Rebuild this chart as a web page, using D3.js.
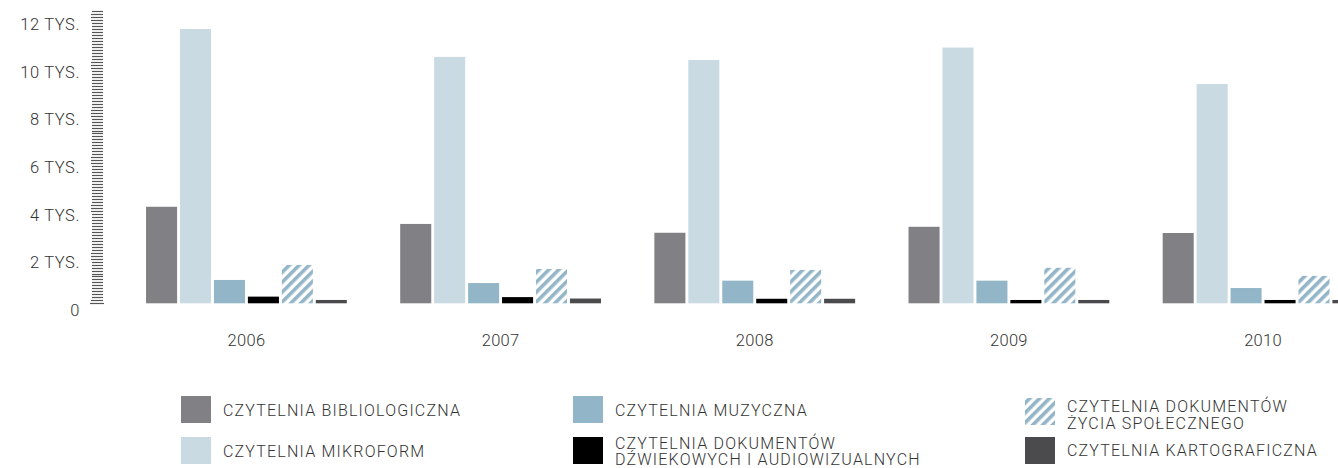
<!DOCTYPE html>
<html>
<head>
<meta charset="utf-8">
<script src="https://cdn.jsdelivr.net/npm/d3@7/dist/d3.min.js"></script>
<style>
  html, body { margin: 0; padding: 0; background: #fff; }
  svg { display: block; }
  text { font-family: Roboto, "Noto Sans", sans-serif; font-weight: 300; fill: #333; }
</style>
</head>
<body>
<svg id="chart" width="1338" height="468"></svg>
<script>
const years = ["2006", "2007", "2008", "2009", "2010"];
const seriesKeys = ["biblio", "mikro", "muz", "audio", "zycie", "karto"];
const biblio = [4050, 3330, 2960, 3210, 2950];
const mikro  = [11510, 10340, 10210, 10730, 9200];
const muz    = [980, 850, 950, 950, 640];
const audio  = [280, 260, 190, 140, 140];
const zycie  = [1610, 1440, 1400, 1490, 1150];
const karto  = [140, 200, 190, 140, 140];
const yTickValues = [0, 2000, 4000, 6000, 8000, 10000, 12000];
const yTickLabels = ["0", "2 TYS.", "4 TYS.", "6 TYS.", "8 TYS.", "10 TYS.", "12 TYS."];
const legendLabels = [
  ["CZYTELNIA BIBLIOLOGICZNA"],
  ["CZYTELNIA MIKROFORM"],
  ["CZYTELNIA MUZYCZNA"],
  ["CZYTELNIA DOKUMENTÓW", "DŹWIEKOWYCH I AUDIOWIZUALNYCH"],
  ["CZYTELNIA DOKUMENTÓW", "ŻYCIA SPOŁECZNEGO"],
  ["CZYTELNIA KARTOGRAFICZNA"]
];

const valuesBySeries = { biblio, mikro, muz, audio, zycie, karto };
const fills = {
  biblio: "#808085",
  mikro: "#c9dae2",
  muz: "#93b5c8",
  audio: "#000000",
  zycie: "url(#hatch)",
  karto: "#4b4b4d"
};

const svg = d3.select("#chart");

// hatch pattern
const defs = svg.append("defs");
const pat = defs.append("pattern")
  .attr("id", "hatch")
  .attr("patternUnits", "userSpaceOnUse")
  .attr("width", 7)
  .attr("height", 7)
  .attr("patternTransform", "rotate(45)");
pat.append("rect").attr("width", 7).attr("height", 7).attr("fill", "#fff");
pat.append("rect").attr("width", 3.6).attr("height", 7).attr("fill", "#93b5c8");

const y = d3.scaleLinear().domain([0, 12000]).range([303.3, 17.3]);

const groupStep = 253.9;
const x0 = d3.scaleBand()
  .domain(years)
  .range([120, 120 + groupStep * years.length])
  .paddingInner(0.21)
  .paddingOuter(0.1025);
const x1 = d3.scaleBand()
  .domain(seriesKeys)
  .range([0, x0.bandwidth()])
  .paddingInner(0.0855);

// y axis minor ticks
const minorTicks = d3.range(0, 12251, 125);
const axisG = svg.append("g");
axisG.selectAll("line.minor")
  .data(minorTicks)
  .enter().append("line")
  .attr("x1", d => (d === 0 ? 90 : (d % 2000 === 0 || (d % 2000) === 125 || (d % 2000) === 1875) ? 91 : 92))
  .attr("x2", d => (d === 0 ? 104 : 103))
  .attr("y1", d => Math.round(y(d)) + 0.5)
  .attr("y2", d => Math.round(y(d)) + 0.5)
  .attr("stroke", "#555")
  .attr("stroke-width", 1.2);

axisG.selectAll("text.ylab")
  .data(yTickValues)
  .enter().append("text")
  .attr("x", 80)
  .attr("y", d => y(d) + 7)
  .attr("dy", "0.35em")
  .attr("text-anchor", "end")
  .style("font-size", "16.5px")
  .style("letter-spacing", "0.6px")
  .text((d, i) => yTickLabels[i]);

// bars
const groups = svg.append("g").selectAll("g")
  .data(years)
  .enter().append("g")
  .attr("transform", d => `translate(${x0(d)},0)`);

groups.selectAll("rect")
  .data((yr, yi) => seriesKeys.map(k => ({ key: k, value: valuesBySeries[k][yi] })))
  .enter().append("rect")
  .attr("x", d => x1(d.key))
  .attr("width", x1.bandwidth())
  .attr("y", d => y(d.value))
  .attr("height", d => y(0) - y(d.value))
  .attr("fill", d => fills[d.key]);

// x labels
svg.append("g").selectAll("text")
  .data(years)
  .enter().append("text")
  .attr("x", d => x0(d) + x0.bandwidth() / 2)
  .attr("y", 340)
  .attr("dy", "0.35em")
  .attr("text-anchor", "middle")
  .style("font-size", "16.5px")
  .style("letter-spacing", "0.3px")
  .text(d => d);

// legend
const legendPos = [
  { x: 181, y: 396, ty: [410] },
  { x: 181, y: 437, ty: [451] },
  { x: 573, y: 396, ty: [410] },
  { x: 573, y: 437, ty: [443, 459] },
  { x: 1025, y: 398, ty: [406, 423] },
  { x: 1025, y: 437, ty: [450] }
];
const legend = svg.append("g").selectAll("g")
  .data(seriesKeys)
  .enter().append("g");
legend.append("rect")
  .attr("x", (d, i) => legendPos[i].x)
  .attr("y", (d, i) => legendPos[i].y)
  .attr("width", 30)
  .attr("height", 27)
  .attr("fill", d => fills[d]);
legend.each(function(d, i) {
  const g = d3.select(this);
  legendLabels[i].forEach((line, li) => {
    g.append("text")
      .attr("x", legendPos[i].x + 42)
      .attr("y", legendPos[i].ty[li])
      .attr("dy", "0.35em")
      .style("font-size", "16px")
      .style("letter-spacing", "1.2px")
      .text(line);
  });
});
</script>
</body>
</html>
